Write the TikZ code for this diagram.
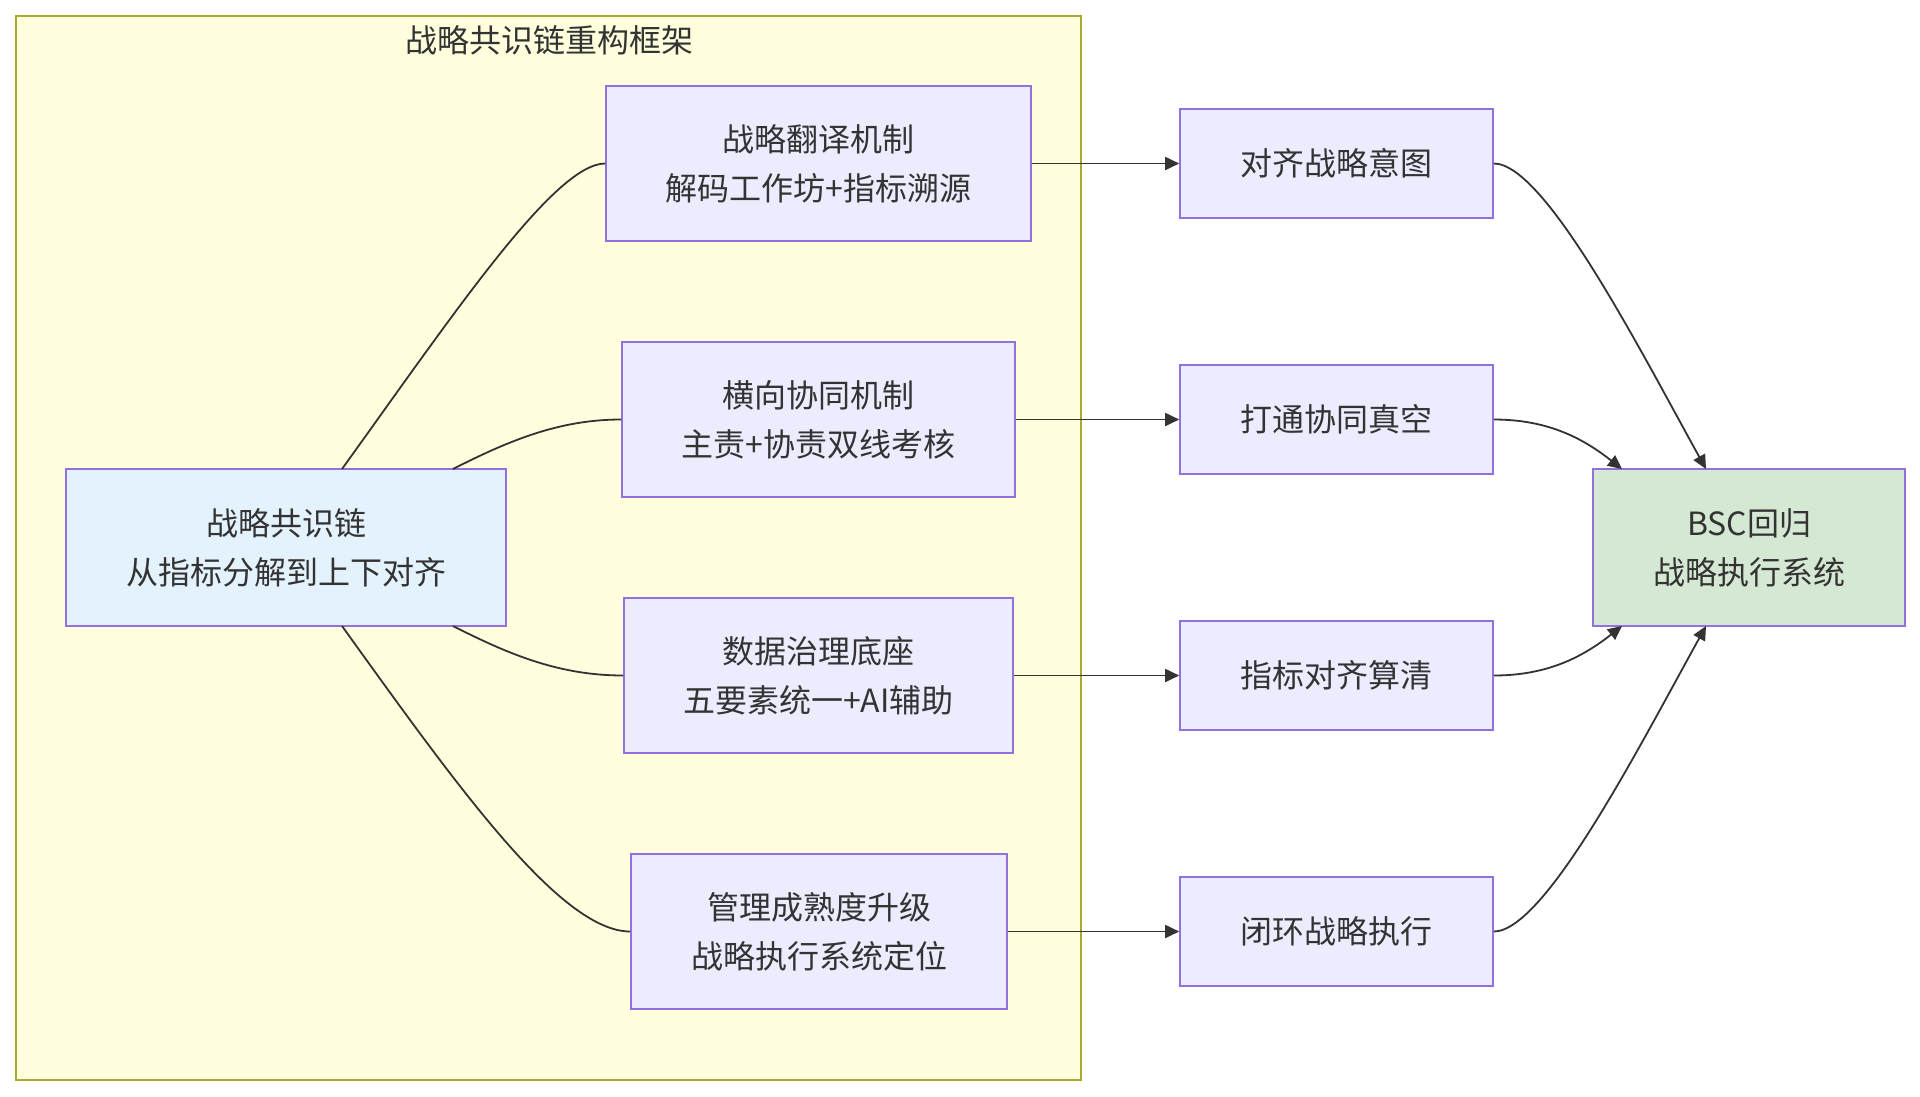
\documentclass[tikz,border=0pt]{standalone}
\usepackage{fontspec}
\setmainfont{Noto Sans CJK SC}
\usetikzlibrary{arrows.meta}
\definecolor{frameFill}{HTML}{FFFFDE}
\definecolor{frameLine}{HTML}{AAAA33}
\definecolor{boxFill}{HTML}{ECECFF}
\definecolor{boxLine}{HTML}{9370DB}
\definecolor{leftFill}{HTML}{E3F2FD}
\definecolor{bscFill}{HTML}{D5E8D4}
\definecolor{txt}{HTML}{333333}
\tikzset{
  box/.style={draw=boxLine, fill=boxFill, line width=1.6pt, inner sep=0pt, align=center, text=txt,
    font=\fontsize{32}{49}\selectfont},
  link/.style={draw=txt, line width=1.8pt},
  arr/.style={link, -{Triangle[length=14pt,width=13pt]}},
}
\begin{document}
\begin{tikzpicture}[x=1pt,y=-1pt]
\useasboundingbox (0,0) rectangle (1920,1096);
\fill[white] (0,0) rectangle (1920,1096);
% frame
\draw[frameLine, fill=frameFill, line width=1.6pt] (16,16) rectangle (1081,1080);
\node[text=txt, font=\fontsize{32}{40}\selectfont] (title) at (549,40) {战略共识链重构框架};
% inner boxes
\node[box, minimum width=425pt, minimum height=155pt] (A) at (818.5,163.5) {战略翻译机制\\解码工作坊+指标溯源};
\node[box, minimum width=393pt, minimum height=155pt] (B) at (818.5,419.5) {横向协同机制\\主责+协责双线考核};
\node[box, minimum width=389pt, minimum height=155pt] (C) at (818.5,675.5) {数据治理底座\\五要素统一+AI辅助};
\node[box, minimum width=376pt, minimum height=155pt] (D) at (819,931.5) {管理成熟度升级\\战略执行系统定位};
\node[box, fill=leftFill, minimum width=440pt, minimum height=157pt] (L) at (286,547.5) {战略共识链\\从指标分解到上下对齐};
% right boxes
\node[box, minimum width=313pt, minimum height=109pt] (R1) at (1336.5,163.5) {对齐战略意图};
\node[box, minimum width=313pt, minimum height=109pt] (R2) at (1336.5,419.5) {打通协同真空};
\node[box, minimum width=313pt, minimum height=109pt] (R3) at (1336.5,675.5) {指标对齐算清};
\node[box, minimum width=313pt, minimum height=109pt] (R4) at (1336.5,931.5) {闭环战略执行};
\node[box, fill=bscFill, minimum width=312pt, minimum height=157pt] (BSC) at (1749,547.5) {BSC回归\\战略执行系统};
% left links
\coordinate (L1) at (342,469);
\coordinate (L2) at (453,469);
\coordinate (L3) at (453,626);
\coordinate (L4) at (342,626);
\draw[link] (L1) .. controls (455,312) and (555,163.5) .. (A.west);
\draw[link] (L2) .. controls (510,440) and (560,419.5) .. (B.west);
\draw[link] (L3) .. controls (510,655) and (560,675.5) .. (C.west);
\draw[link] (L4) .. controls (455,783) and (560,931.5) .. (D.west);
% middle arrows
\draw[arr] (A.east) -- (R1.west);
\draw[arr] (B.east) -- (R2.west);
\draw[arr] (C.east) -- (R3.west);
\draw[arr] (D.east) -- (R4.west);
% to BSC
\coordinate (T1) at (1706,469);
\coordinate (T2) at (1622,469);
\coordinate (T3) at (1622,626);
\coordinate (T4) at (1706,626);
\draw[arr] (R1.east) .. controls (1545,163.5) and (1640,350) .. (T1);
\draw[arr] (R2.east) .. controls (1550,419.5) and (1585,440) .. (T2);
\draw[arr] (R3.east) .. controls (1550,675.5) and (1585,655) .. (T3);
\draw[arr] (R4.east) .. controls (1545,931.5) and (1640,745) .. (T4);
\end{tikzpicture}
\end{document}
